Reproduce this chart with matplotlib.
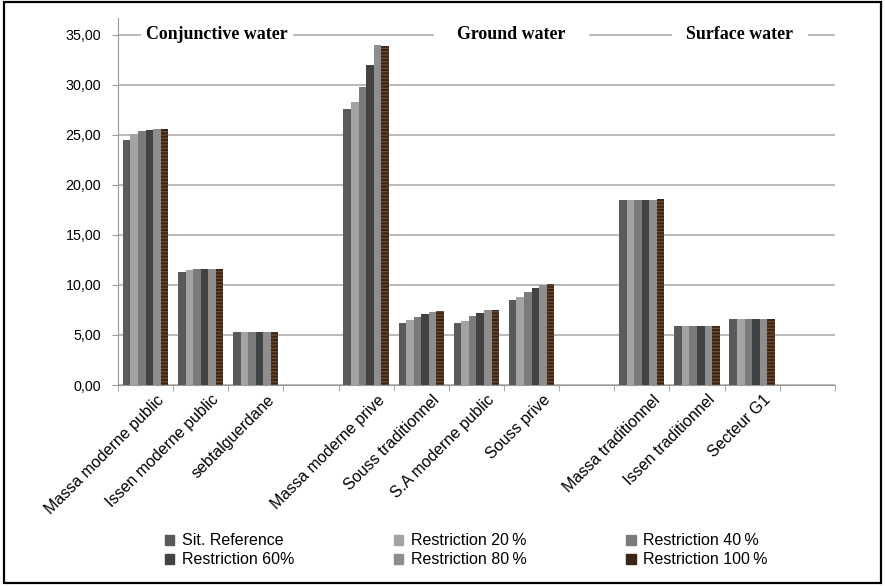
import numpy as np
import matplotlib
matplotlib.use("Agg")
import matplotlib.pyplot as plt
from matplotlib.patches import Rectangle, Patch
from matplotlib.transforms import ScaledTranslation

plt.rcParams['font.family'] = ['Liberation Sans', 'DejaVu Sans']

# categories (blank slots separate the three water groups)
categories = ["Massa moderne public", "Issen moderne public", "sebtalguerdane", "",
              "Massa moderne prive", "Souss traditionnel", "S.A moderne public", "Souss prive", "",
              "Massa traditionnel", "Issen traditionnel", "Secteur G1", ""]

nan = np.nan
sit_ref = [24.5, 11.3, 5.3, nan, 27.6, 6.2, 6.2, 8.5, nan, 18.5, 5.9, 6.6, nan]
restr_20 = [25.1, 11.5, 5.3, nan, 28.3, 6.5, 6.4, 8.8, nan, 18.5, 5.9, 6.6, nan]
restr_40 = [25.4, 11.6, 5.3, nan, 29.8, 6.8, 6.9, 9.3, nan, 18.5, 5.9, 6.6, nan]
restr_60 = [25.5, 11.6, 5.3, nan, 32.0, 7.1, 7.2, 9.7, nan, 18.5, 5.9, 6.6, nan]
restr_80 = [25.6, 11.6, 5.3, nan, 34.0, 7.3, 7.5, 10.0, nan, 18.5, 5.9, 6.6, nan]
restr_100 = [25.6, 11.6, 5.3, nan, 33.9, 7.4, 7.5, 10.1, nan, 18.6, 5.9, 6.6, nan]

series = [sit_ref, restr_20, restr_40, restr_60, restr_80, restr_100]
labels = ["Sit. Reference", "Restriction 20\u2009%", "Restriction 40\u2009%",
          "Restriction 60%", "Restriction 80\u2009%", "Restriction 100\u2009%"]
colors = ['#5a5a5a', '#a3a3a3', '#7b7b7b', '#424242', '#8e8e8e', '#3c2415']

groups = ["Conjunctive water", "Ground water", "Surface water"]
group_pos = [1.3, 6.63, 10.78]
group_pad = [0.3, 1.3, 0.8]

yticks = [0, 5, 10, 15, 20, 25, 30, 35]

fig = plt.figure(figsize=(8.85, 5.86), dpi=100)
ax = fig.add_axes([0.1333, 0.343, 0.81, 0.627])

x = np.arange(len(categories))
w = 0.137
for i, (vals, lab, c) in enumerate(zip(series, labels, colors)):
    if i == 5:
        ax.bar(x + (i - 2.5) * w, vals, w, color=c, label=lab, zorder=3,
               hatch='-----', edgecolor='#6a4a30', linewidth=0)
    else:
        ax.bar(x + (i - 2.5) * w, vals, w, color=c, label=lab, zorder=3, linewidth=0)

ax.set_xlim(-0.5, len(categories) - 0.5)
ax.set_ylim(0, 36.7)
ax.set_yticks(yticks)
ax.set_yticklabels([f"{v:.2f}".replace('.', ',') for v in yticks], fontsize=10.3)
ax.yaxis.grid(True, color='#b4b4b4', linewidth=1.3, zorder=0)
ax.set_axisbelow(True)

ax.set_xticks(x)
ax.set_xticklabels(categories, rotation=45, ha='right', va='center',
                   rotation_mode='anchor', fontsize=11.5)
ax.set_xticks(np.arange(-0.5, len(categories)), minor=True)
ax.tick_params(axis='x', which='major', length=0, pad=9)
ax.tick_params(axis='x', which='minor', length=4, color='#999999')
ax.tick_params(axis='y', length=4, color='#999999', pad=8)
off = ScaledTranslation(16 / 100, 0, fig.dpi_scale_trans)
for t in ax.get_xticklabels():
    t.set_transform(t.get_transform() + off)

for s in ['top', 'right']:
    ax.spines[s].set_visible(False)
ax.spines['left'].set_color('#999999')
ax.spines['bottom'].set_color('#999999')

# group headers sitting on the top gridline
for g, p, pd in zip(groups, group_pos, group_pad):
    ax.text(p, 35, g, ha='center', va='center', fontsize=12.9, fontweight='bold',
            family='Liberation Serif', zorder=4,
            bbox=dict(boxstyle=f'square,pad={pd}', fc='white', ec='none'))

handles = [Patch(color=c) for c in colors]
order = [0, 3, 1, 4, 2, 5]
leg = fig.legend([handles[k] for k in order], [labels[k] for k in order],
                 loc='upper left', bbox_to_anchor=(0.186, 0.090), ncol=3,
                 frameon=False, fontsize=11.5, handlelength=0.6, handleheight=0.6,
                 handletextpad=0.5, columnspacing=6.2, labelspacing=0.25,
                 borderaxespad=0, borderpad=0)
leg.legend_handles[5].set_hatch('-----')

fig.patches.append(Rectangle((0.004, 0.005), 0.992, 0.991, transform=fig.transFigure,
                             fill=False, ec='black', lw=1.6))

fig.savefig("out.png", dpi=100)
